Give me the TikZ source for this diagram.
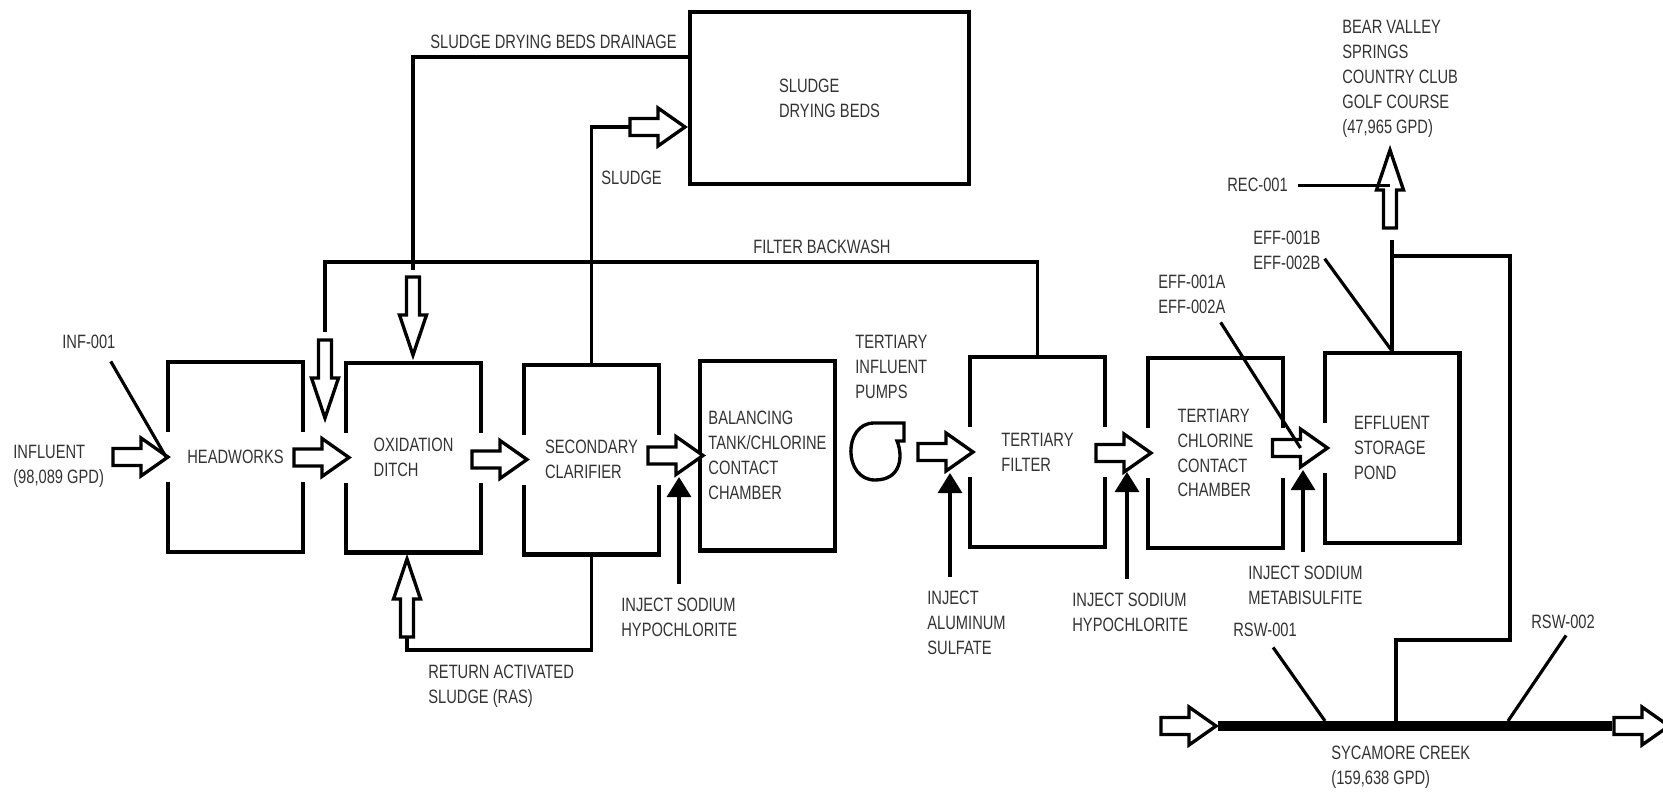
\documentclass[tikz,border=0pt]{standalone}
\usepackage{fontspec}
\newfontfamily\plantfont{Liberation Sans}[FakeStretch=0.76]
\usetikzlibrary{calc,arrows.meta}

\begin{document}
\begin{tikzpicture}[x=0.02cm,y=-0.02cm,
	every node/.style={font=\plantfont\fontsize{11}{14.2}\selectfont, text=black!80, inner sep=0pt},
	unit/.style={draw, text=black!80, line width=2.3pt, minimum width=2.7cm, minimum height=3.8cm, align=left},
	tag/.style={anchor=north west, align=left},
	pipe/.style={line width=1.9pt},
	lead/.style={line width=1.8pt},
	inject/.style={line width=1.8pt, shorten <=0.28cm, -{Triangle[length=0.4cm,width=0.48cm]}},
	sidegap/.style={fill=white, minimum width=0.26cm, minimum height=1cm},
	pics/flowarrow/.style={code={\draw[line width=1.9pt, fill=white] (0,-8.5) -- (28,-8.5) -- (28,-19) -- (55,0) -- (28,19) -- (28,8.5) -- (0,8.5) -- cycle;}},
	pics/slimarrow/.style={code={\draw[line width=1.9pt, fill=white] (0,-6.5) -- (38,-6.5) -- (38,-13.5) -- (78,0) -- (38,13.5) -- (38,6.5) -- (0,6.5) -- cycle;}}]
	\useasboundingbox (0,0) rectangle (1663,791);

	\node[unit] (hw) at (235.5,457) {HEADWORKS};
	\node[unit] (ox) at (413.5,457.5) {OXIDATION\\DITCH};
	\node[unit] (sc) at (591.5,459.5) {SECONDARY\\CLARIFIER};
	\node[unit] (bt) at (767.5,455.5) {BALANCING\\TANK/CHLORINE\\CONTACT\\CHAMBER};
	\node[unit] (tf) at (1037.5,452) {TERTIARY\\FILTER};
	\node[unit] (tc) at (1215.5,453) {TERTIARY\\CHLORINE\\CONTACT\\CHAMBER};
	\node[unit] (sp) at (1392,448) {EFFLUENT\\STORAGE\\POND};
	\node[unit, minimum width=5.58cm, minimum height=3.44cm] (db) at (829.5,98) {SLUDGE\\DRYING BEDS};

	\foreach \b in {hw,ox,sc,tf,tc}{
		\node[sidegap] (\b-l) at (\b.west) {};
		\node[sidegap] (\b-r) at (\b.east) {};
	}
	\node[sidegap] (sp-l) at (sp.west) {};

	\coordinate (sla) at (630,127);
	\coordinate (bwa) at (325,340);
	\coordinate (dra) at (413,277);
	\coordinate (rasa) at (407,637);
	\coordinate (gfa) at (1390,228);
	\coordinate (pump) at (876,452);
	\coordinate (cr1) at (1218,726);
	\coordinate (cr2) at (1612,726);
	\coordinate (jn) at (1392,256);
	\coordinate (rt) at (1510,640);
	\coordinate (t1) at (679,477);
	\coordinate (t2) at (950,473);
	\coordinate (t3) at (1127,472);
	\coordinate (t4) at (1303,470);

	\draw[pipe] (tf.north) |- ($(bwa)+(0,-78)$) -- ($(bwa)+(0,-8)$);
	\draw[pipe] ($(db.north west)+(0,47)$) -| ($(dra)+(0,-7)$);
	\draw[pipe] (sc.north) |- (sla);
	\draw[pipe] (sc.south) |- ($(rasa)+(0,13)$) -- (rasa);
	\draw[pipe] (sp.north) -- ++(0,-111);
	\draw[pipe] (jn) -| (rt) -| ($(cr1)+(178,0)$);
	\draw[line width=5.8pt] (cr1) -- (cr2);

	\draw[pipe, shift={(pump)}] (28,-29) -- (-2,-29) .. controls (-33,-29) and (-33,28) .. (-1,28) .. controls (26,28) and (27,3) .. (21,-11) -- (28,-11) -- cycle;

	\pic at ($(hw.west)+(-53,0)$) {flowarrow};
	\foreach \b in {ox,sc,bt,tf,tc,sp}
		\pic at ($(\b.west)+(-50,0)$) {flowarrow};
	\pic at (sla) {flowarrow};
	\pic at ($(cr1)+(-57,0)$) {flowarrow};
	\pic at ($(cr2)+(2,0)$) {flowarrow};
	\pic[rotate=-90] at (bwa) {slimarrow};
	\pic[rotate=-90] at (dra) {slimarrow};
	\pic[rotate=90] at (rasa) {slimarrow};
	\pic[rotate=90] at (gfa) {slimarrow};

	\node[tag] (infl) at (13,445) {INFLUENT\\(98,089 GPD)};
	\node[tag] (inf) at (62,335) {INF-001};
	\node[tag] (drn) at (430,35) {SLUDGE DRYING BEDS DRAINAGE};
	\node[tag] (slg) at (601,171) {SLUDGE};
	\node[tag] (bwl) at (753,240) {FILTER BACKWASH};
	\node[tag] (ras) at (428,665) {RETURN ACTIVATED\\SLUDGE (RAS)};
	\node[tag] (pmp) at (855,335) {TERTIARY\\INFLUENT\\PUMPS};
	\node[tag] (inj1) at (621,598) {INJECT SODIUM\\HYPOCHLORITE};
	\node[tag] (inj2) at (927,591) {INJECT\\ALUMINUM\\SULFATE};
	\node[tag] (inj3) at (1072,593) {INJECT SODIUM\\HYPOCHLORITE};
	\node[tag] (inj4) at (1248,566) {INJECT SODIUM\\METABISULFITE};
	\node[tag] (effa) at (1158,275) {EFF-001A\\EFF-002A};
	\node[tag] (effb) at (1253,231) {EFF-001B\\EFF-002B};
	\node[tag] (rec) at (1227,178) {REC-001};
	\node[tag] (golf) at (1342,20) {BEAR VALLEY\\SPRINGS\\COUNTRY CLUB\\GOLF COURSE\\(47,965 GPD)};
	\node[tag] (rsw1) at (1233,623) {RSW-001};
	\node[tag] (rsw2) at (1531,615) {RSW-002};
	\node[tag] (crk) at (1331,746) {SYCAMORE CREEK\\(159,638 GPD)};

	\draw[inject] (t1 |- inj1.north) -- (t1);
	\draw[inject] (t2 |- inj2.north) -- (t2);
	\draw[inject] (t3 |- inj3.north) -- (t3);
	\draw[inject] (t4 |- inj4.north) -- (t4);

	\draw[lead] ($(inf.south east)+(-5,12)$) -- (hw.west);
	\draw[lead] ($(effa.south east)+(-5,8)$) -- ($(sp.west)+(-22,0)$);
	\draw[lead] ($(effb.east)+(4,8)$) -- (sp.north);
	\draw[lead] ($(rec.east)+(10,0)$) -- (gfa |- rec.east);
	\draw[lead] ($(rsw1.south east)+(-24,10)$) -- ($(cr1)+(107,-5)$);
	\draw[lead] ($(rsw2.south east)+(-29,6)$) -- ($(cr2)+(-104,-5)$);
\end{tikzpicture}
\end{document}
